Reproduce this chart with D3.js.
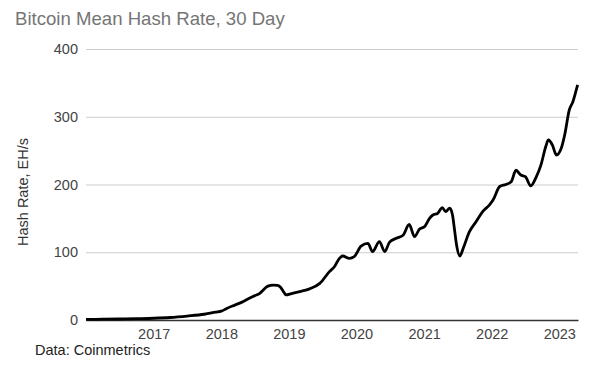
<!DOCTYPE html>
<html>
<head>
<meta charset="utf-8">
<script src="https://cdn.jsdelivr.net/npm/d3@7"></script>
<style>
  body { margin: 0; background: #fff; }
  text { font-family: Arial, "Liberation Sans", sans-serif; }
</style>
</head>
<body>
<div id="container"></div>
<script>
// 30 day mean hash rate, EH/s
const dates = [
  "2016-01-01", "2016-04-01", "2016-07-01", "2016-10-01", "2017-01-01", "2017-04-01",
  "2017-07-01", "2017-10-01", "2017-12-01", "2018-01-01", "2018-01-30", "2018-03-15",
  "2018-04-20", "2018-06-01", "2018-07-01", "2018-07-26", "2018-08-22", "2018-09-10",
  "2018-10-08", "2018-11-01", "2018-11-18", "2018-12-05", "2018-12-16", "2019-01-15",
  "2019-03-01", "2019-04-23", "2019-06-17", "2019-08-07", "2019-09-05", "2019-10-01",
  "2019-10-19", "2019-11-24", "2019-12-20", "2020-01-26", "2020-03-03", "2020-03-28",
  "2020-05-04", "2020-06-02", "2020-06-28", "2020-08-03", "2020-09-09", "2020-10-12",
  "2020-11-10", "2020-12-06", "2021-01-04", "2021-01-30", "2021-02-17", "2021-03-15",
  "2021-04-09", "2021-04-27", "2021-05-19", "2021-06-03", "2021-06-14", "2021-06-25",
  "2021-07-13", "2021-07-31", "2021-09-02", "2021-10-08", "2021-11-13", "2021-12-20",
  "2022-01-08", "2022-02-13", "2022-03-18", "2022-04-16", "2022-05-12", "2022-06-07",
  "2022-07-02", "2022-07-31", "2022-08-29", "2022-09-24", "2022-10-20", "2022-11-03",
  "2022-11-25", "2022-12-16", "2023-01-11", "2023-01-30", "2023-02-24", "2023-03-15",
  "2023-04-02", "2023-04-10"
];
const hashRate = [
  0.8, 1.2, 1.5, 2.0, 2.6, 3.7,
  5.8, 8.5, 11.5, 13, 17, 22,
  26, 32, 36, 39, 46, 50,
  51.6, 51, 48, 41, 37, 39,
  42, 46, 54, 71, 79, 91,
  94.5, 91, 93.5, 109, 113, 101,
  115.6, 101, 115, 120.6, 125, 141,
  123, 134, 138, 150, 155, 157.5,
  166, 160, 165, 155, 133, 110.7,
  94.5, 106, 130, 145, 160, 170,
  177, 197, 200, 204, 221, 214,
  211.5, 198, 211, 229, 256, 265.7,
  258, 243.5, 253, 273, 310, 322,
  339, 347
];
const yTicks = [0, 100, 200, 300, 400];
const xTicks = ["2017", "2018", "2019", "2020", "2021", "2022", "2023"];

const width = 613, height = 384;
const parse = d3.timeParse("%Y-%m-%d");
const data = dates.map((d, i) => ({ date: parse(d), value: hashRate[i] }));

const svg = d3.select("#container").append("svg")
  .attr("width", width)
  .attr("height", height);

const x = d3.scaleTime()
  .domain([parse("2016-01-01"), parse("2023-04-12")])
  .range([86, 578]);

const y = d3.scaleLinear()
  .domain([0, 400])
  .range([320, 49]);

// title
svg.append("text")
  .attr("x", 15)
  .attr("y", 25)
  .attr("fill", "#757575")
  .style("font-size", "18.6px")
  .text("Bitcoin Mean Hash Rate, 30 Day");

// gridlines + y labels
const yAxis = svg.append("g")
  .attr("transform", "translate(86,0)")
  .call(d3.axisLeft(y).tickValues(yTicks).tickSize(-(578 - 86)).tickPadding(8));
yAxis.select(".domain").remove();
yAxis.selectAll(".tick line").attr("stroke", "#cccccc");
yAxis.selectAll(".tick text")
  .attr("fill", "#444")
  .style("font-size", "14.5px")
  .style("font-family", "Arial, 'Liberation Sans', sans-serif");

// x axis
const xAxis = svg.append("g")
  .attr("transform", "translate(0,320)")
  .call(d3.axisBottom(x)
    .tickValues(xTicks.map(t => parse(t + "-01-01")))
    .tickFormat(d3.timeFormat("%Y"))
    .tickSize(0)
    .tickPadding(9));
xAxis.select(".domain").attr("stroke", "#333").attr("stroke-width", 1.3);
xAxis.selectAll(".tick text")
  .attr("fill", "#444")
  .style("font-size", "14.5px")
  .style("font-family", "Arial, 'Liberation Sans', sans-serif");

// y axis title
svg.append("text")
  .attr("transform", "translate(28,192) rotate(-90)")
  .attr("text-anchor", "middle")
  .attr("fill", "#333")
  .style("font-size", "14.5px")
  .text("Hash Rate, EH/s");

// series
const line = d3.line()
  .curve(d3.curveMonotoneX)
  .x(d => x(d.date))
  .y(d => y(d.value));

svg.append("path")
  .datum(data)
  .attr("fill", "none")
  .attr("stroke", "#000")
  .attr("stroke-width", 2.8)
  .attr("stroke-linejoin", "round")
  .attr("d", line);

// source note
svg.append("text")
  .attr("x", 35)
  .attr("y", 355)
  .attr("fill", "#222")
  .style("font-size", "14.5px")
  .text("Data: Coinmetrics");
</script>
</body>
</html>
